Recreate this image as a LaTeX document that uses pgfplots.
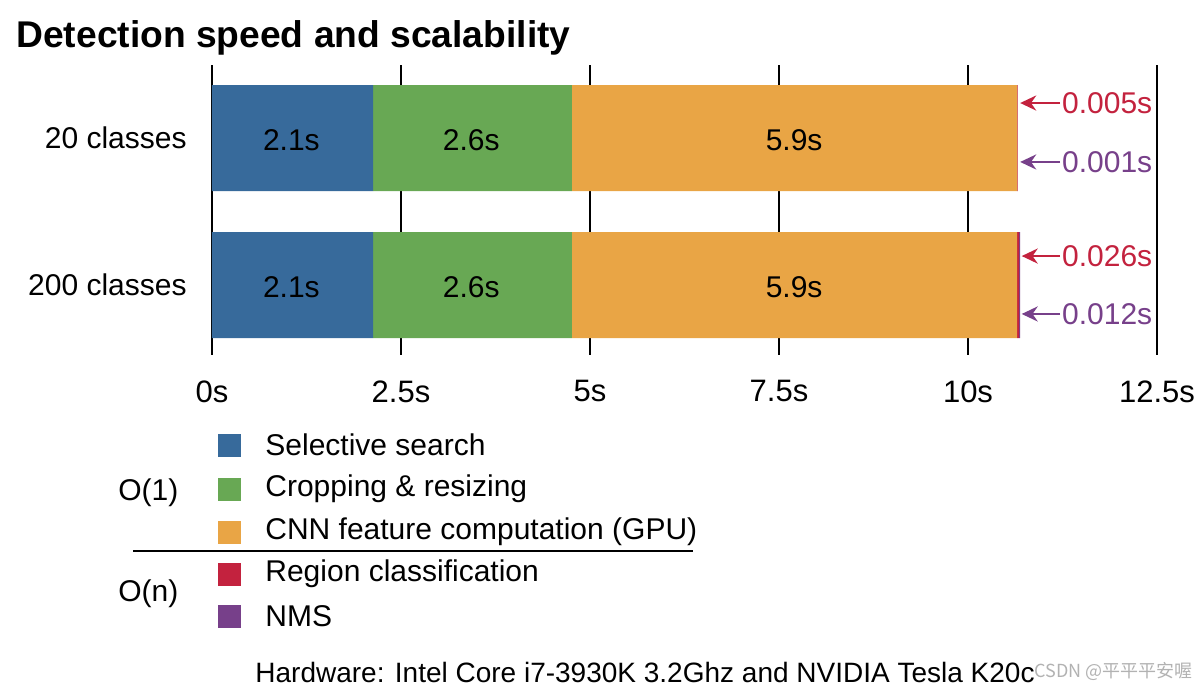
\documentclass[border=0pt]{standalone}
\usepackage{pgfplots}
\pgfplotsset{compat=1.18}
\usepackage{fontspec}
\setmainfont{Liberation Sans}
\newfontfamily\cjk{Noto Sans CJK SC}
\usetikzlibrary{arrows.meta}
\definecolor{cblue}{HTML}{376A9B}
\definecolor{cgreen}{HTML}{68A854}
\definecolor{corange}{HTML}{E9A545}
\definecolor{cred}{HTML}{C3223E}
\definecolor{cpurple}{HTML}{77408A}
\newcommand\fs[1]{\fontsize{#1}{#1}\selectfont}
\begin{document}
\begin{tikzpicture}
% canvas: 1px = 0.5pt, origin at the axis point (0s, 200 classes)
\path[use as bounding box] (-106pt,-203pt) rectangle (495pt,142.5pt);
\begin{axis}[
    anchor=origin, at={(0pt,0pt)},
    x=37.8pt, y=73.5pt,
    xmin=0, xmax=12.5, ymin=-0.476, ymax=1.497,
    xbar stacked, bar width=53pt,
    axis line style={draw=none},
    tick style={draw=none},
    xtick={0,2.5,5,7.5,10,12.5},
    xticklabels={0s,2.5s,5s,7.5s,10s,12.5s},
    ytick={0,1},
    yticklabels={200 classes,20 classes},
    xmajorgrids, grid style={black, line width=0.75pt},
    xticklabel style={font=\fs{15.5}, inner sep=0pt, yshift=-12.5pt},
    yticklabel style={font=\fs{15}, inner sep=0pt, xshift=-12.5pt},
    clip=false,
]
\addplot[fill=cblue, draw=none] coordinates {(2.13,0) (2.13,1)};
\addplot[fill=cgreen, draw=none] coordinates {(2.63,0) (2.63,1)};
\addplot[fill=corange, draw=none] coordinates {(5.89,0) (5.89,1)};
\addplot[fill=cred, draw=none] coordinates {(0.026,0) (0.005,1)};
\addplot[fill=cpurple, draw=none] coordinates {(0.012,0) (0.001,1)};

% anchor points for segment labels (placed after the axis, above the bars)
\coordinate (a1) at (axis cs:1.05,1.0);
\coordinate (b1) at (axis cs:3.43,1.0);
\coordinate (c1) at (axis cs:7.70,1.0);
\coordinate (a0) at (axis cs:1.05,0.0);
\coordinate (b0) at (axis cs:3.43,0.0);
\coordinate (c0) at (axis cs:7.70,0.0);

% O(n) times
\draw[cred, line width=1.4pt, -{Stealth[length=8pt,width=7.5pt]}] (axis cs:11.22,1.238) -- (axis cs:10.69,1.238);
\node[cred, font=\fs{15}, anchor=west, inner sep=0pt] at (axis cs:11.24,1.238) {0.005s};
\draw[cpurple, line width=1.4pt, -{Stealth[length=8pt,width=7.5pt]}] (axis cs:11.22,0.837) -- (axis cs:10.69,0.837);
\node[cpurple, font=\fs{15}, anchor=west, inner sep=0pt] at (axis cs:11.24,0.837) {0.001s};
\draw[cred, line width=1.4pt, -{Stealth[length=8pt,width=7.5pt]}] (axis cs:11.22,0.197) -- (axis cs:10.71,0.197);
\node[cred, font=\fs{15}, anchor=west, inner sep=0pt] at (axis cs:11.24,0.197) {0.026s};
\draw[cpurple, line width=1.4pt, -{Stealth[length=8pt,width=7.5pt]}] (axis cs:11.22,-0.197) -- (axis cs:10.71,-0.197);
\node[cpurple, font=\fs{15}, anchor=west, inner sep=0pt] at (axis cs:11.24,-0.197) {0.012s};
\end{axis}

% segment labels
\foreach \r in {0,1}{
  \node[font=\fs{15}, yshift=-1pt] at (a\r) {2.1s};
  \node[font=\fs{15}, yshift=-1pt] at (b\r) {2.6s};
  \node[font=\fs{15}, yshift=-1pt] at (c\r) {5.9s};
}

% title
\node[anchor=base west, inner sep=0pt, font=\fs{18.6}\bfseries] at (-98pt,118.5pt) {Detection speed and scalability};

% legend
\foreach \c/\yy/\t in {cblue/-80/Selective search, cgreen/-102/Cropping \& resizing, corange/-123.5/CNN feature computation (GPU), cred/-144.5/Region classification, cpurple/-165.5/NMS}{
  \fill[\c] (3pt,\yy pt-5.75pt) rectangle (14.5pt,\yy pt+5.75pt);
  \node[anchor=west, inner sep=0pt, font=\fs{15}] at (26.5pt,\yy pt) {\t};
}
\node[anchor=west, inner sep=0pt, font=\fs{15}] at (-47pt,-104pt) {O(1)};
\node[anchor=west, inner sep=0pt, font=\fs{15}] at (-47pt,-154.5pt) {O(n)};
\draw[line width=0.7pt] (-39.5pt,-133pt) -- (240.5pt,-133pt);

% footer
\node[anchor=west, inner sep=0pt, font=\fs{14}] at (21.5pt,-193.5pt) {Hardware: Intel Core i7-3930K 3.2Ghz and NVIDIA Tesla K20c};
\node[anchor=west, inner sep=0pt, font=\fs{9}\cjk, text=black!30] at (411pt,-193pt) {CSDN @平平平安喔};
\end{tikzpicture}
\end{document}
